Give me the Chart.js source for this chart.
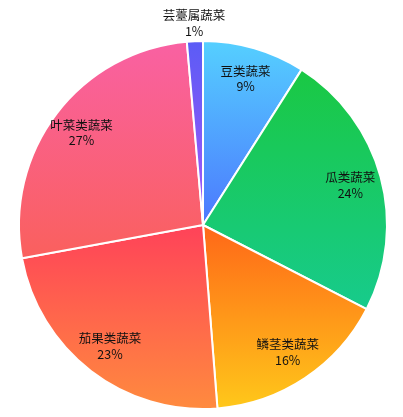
<!DOCTYPE html>
<html>
<head>
<meta charset="utf-8">
<script src="https://cdn.jsdelivr.net/npm/chart.js@4/dist/chart.umd.min.js"></script>
<style>
  html, body { margin: 0; padding: 0; background: #fff; }
  #wrap { width: 403px; height: 417px; }
</style>
</head>
<body>
<div id="wrap"><canvas id="pie" width="403" height="417"></canvas></div>
<script>
const categories = ['豆类蔬菜', '瓜类蔬菜', '鳞茎类蔬菜', '茄果类蔬菜', '叶菜类蔬菜', '芸薹属蔬菜'];
const values = [9.0, 23.55, 16.2, 23.35, 26.5, 1.4];

// gradient stops per slice, top -> bottom
const colorTop = ['#55d0ff', '#1ac843', '#ff6718', '#ff4259', '#f961a3', '#5a5cf6'];
const colorBottom = ['#4c78fe', '#17cb8c', '#ffc81a', '#ff8b3e', '#fa605d', '#a656f6'];

// integer percents that add up to 100 (largest remainder)
function roundedPercents(vals) {
  const total = vals.reduce((a, b) => a + b, 0);
  const raw = vals.map(v => v / total * 100);
  const out = raw.map(Math.floor);
  let left = 100 - out.reduce((a, b) => a + b, 0);
  raw.map((v, i) => [v - Math.floor(v), i])
    .sort((a, b) => b[0] - a[0])
    .forEach(([, i]) => { if (left > 0) { out[i]++; left--; } });
  return out;
}
const percents = roundedPercents(values);

function sliceGradient(ctx) {
  const chart = ctx.chart;
  const area = chart.chartArea;
  const i = ctx.dataIndex;
  if (!area || i === undefined) return colorTop[i || 0];
  const cx = (area.left + area.right) / 2;
  const cy = (area.top + area.bottom) / 2;
  const r = Math.min(area.right - area.left, area.bottom - area.top) / 2;
  const total = values.reduce((a, b) => a + b, 0);
  const before = values.slice(0, i).reduce((a, b) => a + b, 0);
  const a0 = -Math.PI / 2 + before / total * Math.PI * 2;
  const a1 = a0 + values[i] / total * Math.PI * 2;
  const ys = [cy, cy + r * Math.sin(a0), cy + r * Math.sin(a1)];
  [-Math.PI / 2, Math.PI / 2, Math.PI * 1.5].forEach(a => {
    if (a >= a0 && a <= a1) ys.push(cy + r * Math.sin(a));
  });
  const g = chart.ctx.createLinearGradient(0, Math.min(...ys), 0, Math.max(...ys));
  g.addColorStop(0, colorTop[i]);
  g.addColorStop(1, colorBottom[i]);
  return g;
}

const labelPlugin = {
  id: 'sliceLabels',
  afterDatasetsDraw(chart) {
    const meta = chart.getDatasetMeta(0);
    const c = chart.ctx;
    c.save();
    c.font = '12.5px "Noto Sans CJK SC", "Microsoft YaHei", sans-serif';
    c.textAlign = 'center';
    c.textBaseline = 'middle';
    c.fillStyle = '#111';
    meta.data.forEach((arc, i) => {
      const p = arc.getProps(['x', 'y', 'startAngle', 'endAngle', 'outerRadius'], true);
      const mid = (p.startAngle + p.endAngle) / 2;
      const k = percents[i] < 3 ? 1.1 : 0.83;
      const x = p.x + Math.cos(mid) * p.outerRadius * k;
      const y = p.y + Math.sin(mid) * p.outerRadius * k;
      c.fillText(categories[i], x, y - 7.5);
      c.fillText(percents[i] + '%', x, y + 8);
    });
    c.restore();
  }
};

new Chart(document.getElementById('pie'), {
  type: 'pie',
  data: {
    labels: categories,
    datasets: [{
      data: values,
      backgroundColor: sliceGradient,
      borderColor: '#fff',
      borderWidth: 2
    }]
  },
  options: {
    responsive: false,
    animation: false,
    layout: { padding: { left: 18, right: 15, top: 40, bottom: 7 } },
    plugins: {
      legend: { display: false },
      tooltip: { enabled: false }
    }
  },
  plugins: [labelPlugin]
});
</script>
</body>
</html>
